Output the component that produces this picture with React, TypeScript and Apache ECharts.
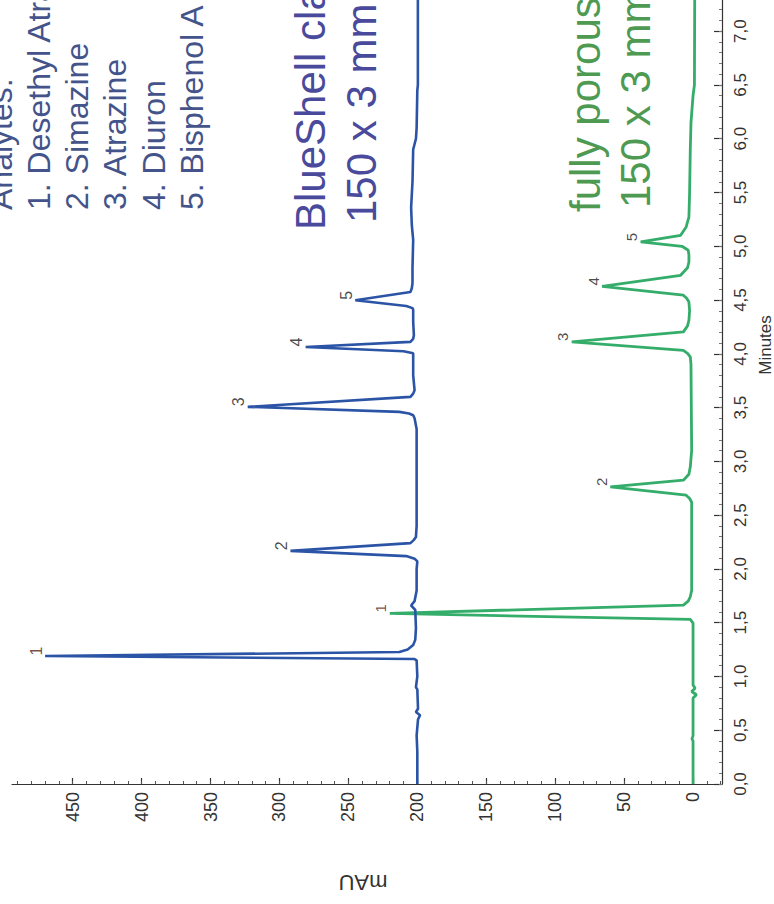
import React, { useEffect, useRef } from 'react';
import * as echarts from 'echarts';

const FONT = '"Liberation Sans", Arial, Helvetica, sans-serif';

// BlueShell trace (time in min, absorbance in mAU)
const blueTime = [0.0, 0.3, 0.45, 0.6, 0.64, 0.67, 0.7, 0.88, 0.9, 1.0, 1.15,
  1.162, 1.19, 1.227, 1.25, 1.292, 1.34, 1.45, 1.62, 1.66, 1.7, 1.8, 2.0,
  2.07, 2.095, 2.119, 2.168, 2.24, 2.27, 2.296, 2.4, 3.3, 3.4,
  3.429, 3.445, 3.46, 3.507, 3.6, 3.63, 3.662, 3.8, 3.98,
  4.006, 4.024, 4.064, 4.111, 4.14, 4.173, 4.3, 4.41,
  4.425, 4.445, 4.498, 4.575, 4.61, 4.656, 4.8, 5.06, 5.2, 5.36, 5.6, 5.9, 6.0, 6.1, 6.45, 6.5, 7.29];
const blueMAU = [200, 200, 200.5, 199.5, 198, 201, 199.5, 200, 201, 200, 200.5,
  202, 470, 213, 207, 203, 201.5, 201, 201.5, 204.5, 202, 200.5, 200.5,
  200, 202, 208, 292, 205, 202.5, 201, 200.5, 200.5, 202,
  203, 206, 213, 323, 205, 203, 202, 203, 203,
  203, 210, 281, 205, 203, 202.5, 203, 203,
  203.5, 208, 245, 205, 204, 203.5, 203.5, 203, 204, 204.5, 203.5, 203, 201, 200.5, 200, 199.6, 199.6];

// fully porous trace
const greenTime = [0.0, 0.4, 0.42, 0.45, 0.8, 0.83, 0.86, 0.89, 0.92, 1.2,
  1.496, 1.53, 1.586, 1.664, 1.7, 1.741, 1.8, 2.4,
  2.62, 2.655, 2.686, 2.763, 2.825, 2.88, 2.949, 3.1, 3.9,
  3.971, 4.005, 4.033, 4.111, 4.204, 4.26, 4.312, 4.4,
  4.482, 4.515, 4.545, 4.628, 4.73, 4.8, 4.854, 4.92,
  4.963, 5.0, 5.04, 5.102, 5.18, 5.272, 5.5, 5.9, 6.15, 6.4, 6.5, 7.29];
const greenMAU = [0, 0, 0.8, 0, 0, -2.5, 1, -1.5, 0, 0,
  0, 2, 220, 7, 3.5, 2, 1, 1,
  1, 2.5, 5, 60, 7, 3, 2, 1, 1.5,
  2, 4, 7, 88, 7, 4, 3, 2.5,
  3, 4.5, 7, 66, 9, 4, 3, 3,
  3.5, 8, 38, 9, 5, 3, 2.5, 2, 1.5, 0, -1, -1.2];

const peakNames = ['1', '2', '3', '4', '5'];
const bluePeakTime = [1.19, 2.168, 3.507, 4.064, 4.498];
const bluePeakMAU = [470, 292, 323, 281, 245];
const greenPeakTime = [1.586, 2.763, 4.111, 4.628, 5.04];
const greenPeakMAU = [220, 60, 88, 66, 38];

const mauTicks = [0, 50, 100, 150, 200, 250, 300, 350, 400, 450];
const minuteTicks = [0, 0.5, 1, 1.5, 2, 2.5, 3, 3.5, 4, 4.5, 5, 5.5, 6, 6.5, 7];

const analyteLines = ['Analytes:', '1. Desethyl Atrazine', '2. Simazine', '3. Atrazine', '4. Diuron', '5. Bisphenol A'];
const blueLabelLines = ['BlueShell classic C18', '150 x 3 mm'];
const greenLabelLines = ['fully porous C18', '150 x 3 mm'];

const BLUE = '#2b54a6';
const GREEN = '#35ad6a';

export default function App() {
  const ref = useRef<HTMLDivElement>(null);
  useEffect(() => {
    const chart = echarts.init(ref.current!, null, { renderer: 'svg' });
    const blueData = blueTime.map((t, i) => [blueMAU[i], t]);
    const greenData = greenTime.map((t, i) => [greenMAU[i], t]);
    const mkPeaks = (times: number[], vals: number[]) =>
      times.map((t, i) => ({
        value: [vals[i], t, peakNames[i]],
        label: { color: i === 0 ? '#5a1d14' : '#1a1a1a' },
      }));
    const mauMinor: number[] = [];
    for (let v = -20; v <= 490; v += 10) mauMinor.push(v);
    const minMinor: number[] = [];
    for (let i = 0; i <= 72; i++) minMinor.push(Math.round(i * 10) / 100);

    const axisColor = '#333';
    const rot = Math.PI / 2;
    const graphic: any[] = [];
    const analyteX = [0.5, 39, 76.5, 115, 153.5, 191.5];
    analyteLines.forEach((s, i) => {
      graphic.push({
        type: 'text', x: analyteX[i], y: 210, rotation: rot,
        style: { text: s, font: `32px ${FONT}`, fill: '#44548a', textAlign: 'left', textVerticalAlign: 'middle', align: 'left', verticalAlign: 'middle' },
      });
    });
    const blueX = [310.5, 361];
    const blueY = [230, 223];
    blueLabelLines.forEach((s, i) => {
      graphic.push({
        type: 'text', x: blueX[i], y: blueY[i], rotation: rot,
        style: { text: s, font: `42px ${FONT}`, fill: '#4a4a9c', textAlign: 'left', textVerticalAlign: 'middle', align: 'left', verticalAlign: 'middle' },
      });
    });
    const greenX = [585, 635];
    const greenY = [212, 208];
    greenLabelLines.forEach((s, i) => {
      graphic.push({
        type: 'text', x: greenX[i], y: greenY[i], rotation: rot,
        style: { text: s, font: `42px ${FONT}`, fill: '#4f9a52', textAlign: 'left', textVerticalAlign: 'middle', align: 'left', verticalAlign: 'middle' },
      });
    });
    graphic.push({
      type: 'text', x: 363, y: 882, rotation: Math.PI,
      style: { text: 'mAU', font: `22px ${FONT}`, fill: axisColor, textAlign: 'center', textVerticalAlign: 'middle', align: 'center', verticalAlign: 'middle' },
    });
    graphic.push({
      type: 'text', x: 765, y: 345, rotation: rot,
      style: { text: 'Minutes', font: `17px ${FONT}`, fill: axisColor, textAlign: 'center', textVerticalAlign: 'middle', align: 'center', verticalAlign: 'middle' },
    });

    const xBase = {
      type: 'value', inverse: true, min: -21, max: 494, position: 'bottom',
      splitLine: { show: false },
    };
    const yBase = {
      type: 'value', min: 0, max: 7.29, position: 'right',
      splitLine: { show: false },
    };

    chart.setOption({
      animation: false,
      backgroundColor: '#ffffff',
      grid: { left: 12, right: 52, top: 0, bottom: 120, containLabel: false, outerBoundsMode: 'none' },
      xAxis: [
        {
          ...xBase,
          axisLine: { show: true, onZero: false, lineStyle: { color: axisColor, width: 1.2 } },
          axisTick: { show: true, inside: true, length: 6, customValues: mauTicks, lineStyle: { color: axisColor, width: 1.2 } },
          axisLabel: { show: true, customValues: mauTicks, rotate: 90, margin: 8, fontSize: 18, color: axisColor, fontFamily: FONT },
        },
        {
          ...xBase,
          axisLine: { show: false, onZero: false },
          axisTick: { show: true, inside: true, length: 3, customValues: mauMinor, lineStyle: { color: '#555', width: 1 } },
          axisLabel: { show: false },
        },
      ],
      yAxis: [
        {
          ...yBase,
          axisLine: { show: true, onZero: false, lineStyle: { color: axisColor, width: 1.2 } },
          axisTick: { show: true, inside: true, length: 8, customValues: minuteTicks, lineStyle: { color: axisColor, width: 1.2 } },
          axisLabel: {
            show: true, customValues: minuteTicks, rotate: 90, margin: 10, fontSize: 17, color: axisColor, fontFamily: FONT,
            formatter: (v: number) => v.toFixed(1).replace('.', ','),
          },
        },
        {
          ...yBase,
          axisLine: { show: false, onZero: false },
          axisTick: { show: true, inside: true, length: 3, customValues: minMinor, lineStyle: { color: '#777', width: 1 } },
          axisLabel: { show: false },
        },
      ],
      series: [
        {
          name: 'BlueShell', type: 'line', xAxisIndex: 0, yAxisIndex: 0, data: blueData,
          showSymbol: false, symbol: 'none', lineStyle: { color: BLUE, width: 2.6 }, z: 3,
        },
        {
          name: 'fully porous', type: 'line', xAxisIndex: 0, yAxisIndex: 0, data: greenData,
          showSymbol: false, symbol: 'none', lineStyle: { color: GREEN, width: 2.8 }, z: 2,
        },
        {
          name: 'blue peaks', type: 'scatter', xAxisIndex: 0, yAxisIndex: 0, data: mkPeaks(bluePeakTime, bluePeakMAU),
          symbolSize: 1, itemStyle: { color: 'transparent' }, z: 5,
          label: { show: true, position: 'inside', offset: [5, -9], rotate: 90, fontSize: 16, fontFamily: FONT, formatter: (p: any) => p.value[2] },
        },
        {
          name: 'green peaks', type: 'scatter', xAxisIndex: 0, yAxisIndex: 0, data: mkPeaks(greenPeakTime, greenPeakMAU),
          symbolSize: 1, itemStyle: { color: 'transparent' }, z: 5,
          label: { show: true, position: 'inside', offset: [5, -9], rotate: 90, fontSize: 15, fontFamily: FONT, formatter: (p: any) => p.value[2] },
        },
      ],
      graphic,
    });
    return () => chart.dispose();
  }, []);
  return <div ref={ref} style={{ position: 'absolute', left: 0, top: 0, width: 774, height: 904, background: '#fff' }} />;
}
